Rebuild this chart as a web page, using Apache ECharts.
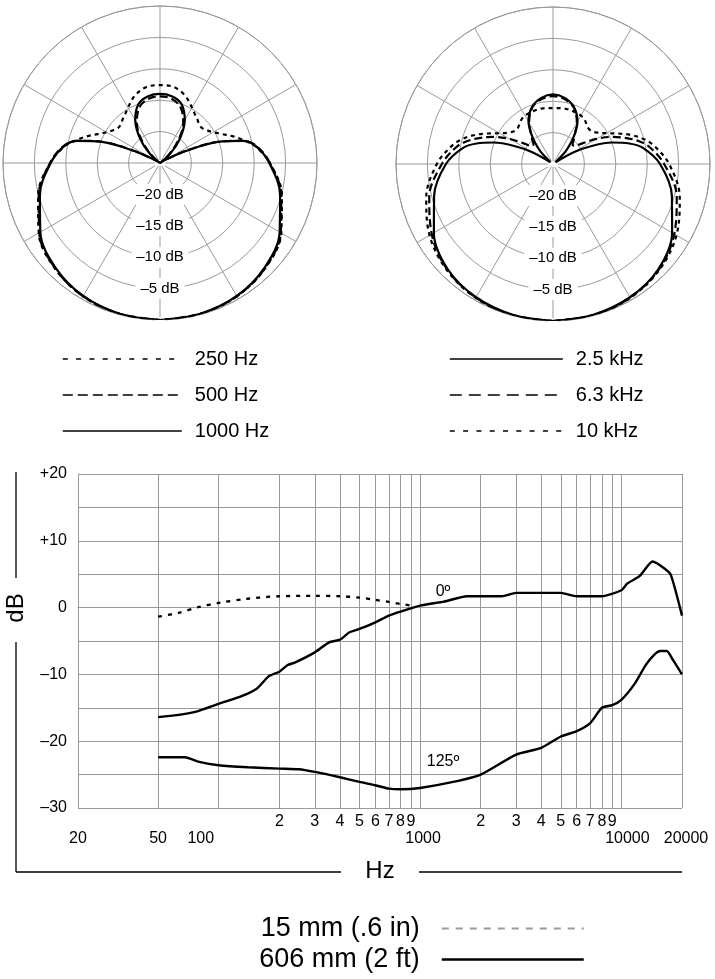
<!DOCTYPE html>
<html lang="en">
<head>
<meta charset="UTF-8">
<script src="https://cdn.jsdelivr.net/npm/echarts/dist/echarts.min.js"></script>
<title>Polar pattern / frequency response</title>
<style>
    html, body {
        margin: 0;
        padding: 0;
        background: #fff;
    }
    #chart {
        width: 715px;
        height: 979px;
    }
</style>
</head>
<body>
<div id="chart"></div>
<script type="text/javascript">

    // polar patterns: angle in degrees, 0 = front of the mic (bottom of the plot)
    var polarAngles = [0, 15, 30, 45, 60, 75, 90, 100, 105, 110, 115, 120, 125, 130, 135, 140, 145, 150, 160, 170, 180,
        190, 200, 210, 215, 220, 225, 230, 235, 240, 245, 250, 255, 260, 270, 285, 300, 315, 330, 345, 360];

    var db250 = [0, -0.15, -0.5, -1.3, -2.7, -4.9, -7.5, -9.6, -11.1, -12.6, -14.1, -15.2, -15.9, -16.3, -16.2, -15.8, -15.4, -14.8, -13.5, -12.7, -12.6,
        -12.7, -13.5, -14.8, -15.4, -15.8, -16.2, -16.3, -15.9, -15.2, -14.1, -12.6, -11.1, -9.6, -7.5, -4.9, -2.7, -1.3, -0.5, -0.15, 0];
    var db500 = [0, -0.15, -0.5, -1.35, -2.8, -5.0, -7.5, -9.4, -11.3, -15.1, -20.3, -23.8, -25, -24, -22.4, -20.8, -19.0, -17.6, -15.5, -14.6, -14.4,
        -14.6, -15.5, -17.6, -19.0, -20.8, -22.4, -24, -25, -23.8, -20.3, -15.1, -11.3, -9.4, -7.5, -5.0, -2.8, -1.35, -0.5, -0.15, 0];
    var db1000 = [0, -0.15, -0.55, -1.45, -3.0, -5.2, -7.6, -9.5, -11.4, -15.2, -20.6, -24, -25, -23.6, -22, -20.3, -18.6, -17.1, -15.0, -14.2, -14.0,
        -14.2, -15.0, -17.1, -18.6, -20.3, -22, -23.6, -25, -24, -20.6, -15.2, -11.4, -9.5, -7.6, -5.2, -3.0, -1.45, -0.55, -0.15, 0];
    var db2500 = [0, -0.15, -0.5, -1.3, -3.1, -5.4, -7.95, -10.4, -12.4, -15.0, -18.2, -21.3, -24.5, -24.3, -22.2, -20.5, -18.8, -17.2, -15.3, -14.3, -13.9,
        -14.3, -15.3, -17.2, -18.8, -20.5, -22.2, -24.3, -24.5, -21.3, -18.2, -15.0, -12.4, -10.4, -7.95, -5.4, -3.1, -1.3, -0.5, -0.15, 0];
    var db6300 = [0, -0.1, -0.45, -1.2, -2.7, -4.6, -7.3, -9.4, -10.9, -12.8, -14.8, -17.0, -19.2, -20.5, -20.6, -19.8, -18.8, -17.4, -15.4, -14.5, -14.2,
        -14.5, -15.4, -17.4, -18.8, -19.8, -20.6, -20.5, -19.2, -17.0, -14.8, -12.8, -10.9, -9.4, -7.3, -4.6, -2.7, -1.2, -0.45, -0.1, 0];
    var db10k = [0, -0.1, -0.4, -1.1, -2.3, -4.1, -6.5, -8.6, -9.9, -11.6, -13.5, -15.2, -16.3, -16.9, -17.0, -16.7, -16.3, -16.1, -16.0, -16.0, -16.1,
        -16.0, -16.0, -16.1, -16.3, -16.7, -17.0, -16.9, -16.3, -15.2, -13.5, -11.6, -9.9, -8.6, -6.5, -4.1, -2.3, -1.1, -0.4, -0.1, 0];

    // frequency response, Hz / dB
    var hz15mm = [50, 63, 80, 100, 137, 200, 300, 400, 500, 600, 700, 800, 900];
    var db15mm = [-1.35, -0.8, 0.1, 0.7, 1.3, 1.7, 1.75, 1.7, 1.5, 1.15, 0.85, 0.55, 0.3];

    var hz0deg = [50, 62, 79, 100, 129, 155, 177, 200, 220, 240, 300, 353, 400, 446, 500, 600, 700, 800, 1000, 1315, 1712,
        2000, 2540, 3000, 4000, 5000, 6000, 8000, 10000, 10700, 12300, 14300, 16300, 17600, 20000];
    var db0deg = [-16.4, -16.1, -15.5, -14.4, -13.3, -12.1, -10.3, -9.6, -8.6, -8.2, -6.7, -5.2, -4.8, -3.7, -3.2, -2.2, -1.2, -0.6, 0.3, 0.9, 1.7,
        1.7, 1.7, 2.2, 2.2, 2.2, 1.7, 1.7, 2.6, 3.6, 4.7, 6.9, 5.9, 4.9, -1.2];

    var hz125deg = [50, 68, 80, 100, 140, 200, 250, 300, 400, 500, 600, 700, 800, 1000, 1460, 2000, 3000, 4000, 5000, 6000,
        7000, 8000, 9000, 10000, 11700, 13200, 14500, 15600, 16800, 18000, 20000];
    var db125deg = [-22.4, -22.4, -23.1, -23.6, -23.9, -24.1, -24.2, -24.6, -25.4, -26.1, -26.6, -27.1, -27.2, -27.0, -26.1, -25.0, -22.0, -21.0, -19.3, -18.5,
        -17.3, -15.0, -14.6, -13.8, -11.3, -8.6, -7.1, -6.5, -6.5, -7.8, -10.0];

    // x axis grid / labels
    var gridHz = [20, 50, 100, 200, 300, 400, 500, 600, 700, 800, 900, 1000, 2000, 3000, 4000, 5000, 6000, 7000, 8000, 9000, 10000, 20000];
    var digitHz = [200, 300, 400, 500, 600, 700, 800, 900, 2000, 3000, 4000, 5000, 6000, 7000, 8000, 9000];
    var mainHz = [20, 50, 100, 1000, 10000, 20000];

    var FONT = 'Liberation Sans, Arial, Helvetica, sans-serif';
    var GRID_GRAY = '#999';

    function polarPairs(values) {
        return polarAngles.map(function (a, i) {
            return [values[i], a];
        });
    }

    function pairs(xs, ys) {
        return xs.map(function (x, i) {
            return [x, ys[i]];
        });
    }

    function polarSeries(name, idx, values, dash) {
        return {
            name: name,
            type: 'line',
            coordinateSystem: 'polar',
            polarIndex: idx,
            symbol: 'none',
            smooth: 0.35,
            silent: true,
            lineStyle: {color: '#000', width: 2.2, type: dash},
            data: polarPairs(values)
        };
    }

    function angleAxis(idx) {
        return {
            polarIndex: idx,
            type: 'value',
            min: 0,
            max: 360,
            interval: 30,
            startAngle: 270,
            axisLine: {show: true, lineStyle: {color: GRID_GRAY, width: 1}},
            axisTick: {show: false},
            axisLabel: {show: false},
            splitLine: {show: true, lineStyle: {color: GRID_GRAY, width: 1}}
        };
    }

    function radiusAxis(idx) {
        return {
            polarIndex: idx,
            type: 'value',
            min: -25,
            max: 0,
            interval: 5,
            axisLine: {show: false},
            axisTick: {show: false},
            splitLine: {show: true, lineStyle: {color: GRID_GRAY, width: 1}},
            axisLabel: {
                margin: 0,
                align: 'center',
                verticalAlign: 'middle',
                fontSize: 15,
                fontFamily: FONT,
                color: '#000',
                backgroundColor: '#fff',
                padding: [3, 5],
                formatter: function (v) {
                    if (v <= -25 || v >= 0) return '';
                    return '\u2013' + (-v) + ' dB';
                }
            }
        };
    }

    function polarLegend(left, items, width) {
        return {
            orient: 'vertical',
            left: left,
            top: 349,
            padding: 0,
            itemWidth: width,
            itemHeight: 20,
            itemGap: 16,
            selectedMode: false,
            itemStyle: {opacity: 0},
            textStyle: {fontSize: 20, fontFamily: FONT, color: '#000', padding: [0, 0, 0, 8]},
            data: items
        };
    }

    var chart = echarts.init(document.getElementById('chart'));

    var option = {
        animation: false,
        textStyle: {fontFamily: FONT},
        polar: [
            {center: [160, 163], radius: 157},
            {center: [553, 164], radius: 157}
        ],
        angleAxis: [angleAxis(0), angleAxis(1)],
        radiusAxis: [radiusAxis(0), radiusAxis(1)],
        grid: {left: 78, top: 474, width: 604, height: 334},
        xAxis: [
            {
                type: 'log',
                logBase: 10,
                min: 20,
                max: 20000,
                name: 'Hz',
                nameLocation: 'middle',
                nameGap: 51,
                nameTextStyle: {fontSize: 24, fontFamily: FONT, color: '#000'},
                axisLine: {show: true, lineStyle: {color: GRID_GRAY}},
                axisTick: {show: false, customValues: gridHz},
                splitLine: {show: true, lineStyle: {color: GRID_GRAY, width: 1}},
                axisLabel: {
                    customValues: digitHz,
                    margin: 6,
                    fontSize: 16,
                    color: '#000',
                    formatter: function (v) {
                        return String(Math.round(v)).charAt(0);
                    }
                }
            },
            {
                type: 'log',
                logBase: 10,
                min: 20,
                max: 20000,
                position: 'bottom',
                axisLine: {show: false},
                axisTick: {show: false, customValues: mainHz},
                splitLine: {show: false},
                axisLabel: {
                    customValues: mainHz,
                    margin: 23,
                    fontSize: 16,
                    color: '#000',
                    formatter: function (v) {
                        v = Math.round(v);
                        if (v === 100) return '{a|100}';
                        if (v === 1000) return '{b|1000}';
                        if (v === 10000) return '{c|10000}';
                        if (v === 20000) return '{d|20000}';
                        return String(v);
                    },
                    rich: {
                        a: {fontSize: 16, color: '#000', padding: [0, 36, 0, 0]},
                        b: {fontSize: 16, color: '#000', padding: [0, 0, 0, 6]},
                        c: {fontSize: 16, color: '#000', padding: [0, 0, 0, 12]},
                        d: {fontSize: 16, color: '#000', padding: [0, 0, 0, 8]}
                    }
                }
            }
        ],
        yAxis: {
            type: 'value',
            min: -30,
            max: 20,
            interval: 5,
            axisLine: {show: true, lineStyle: {color: GRID_GRAY}},
            axisTick: {show: false},
            splitLine: {show: true, lineStyle: {color: GRID_GRAY, width: 1}},
            axisLabel: {
                margin: 11,
                fontSize: 16,
                color: '#000',
                formatter: function (v) {
                    if (v % 10 !== 0) return '';
                    if (v > 0) return '+' + v;
                    if (v < 0) return '\u2013' + (-v);
                    return '0';
                }
            }
        },
        legend: [
            polarLegend(62, [
                {name: '250 Hz', lineStyle: {type: [5, 8.3], width: 1.6}},
                {name: '500 Hz', lineStyle: {type: [10, 5], width: 1.6}},
                {name: '1000 Hz', lineStyle: {width: 1.6}}
            ], 119),
            polarLegend(449, [
                {name: '2.5 kHz', lineStyle: {width: 1.6}},
                {name: '6.3 kHz', lineStyle: {type: [12, 7], width: 1.6}},
                {name: '10 kHz', lineStyle: {type: [5, 8.3], width: 1.6}}
            ], 113),
            {
                orient: 'vertical',
                align: 'right',
                right: 130,
                top: 915,
                padding: 0,
                itemWidth: 142,
                itemHeight: 26,
                itemGap: 4,
                selectedMode: false,
                itemStyle: {opacity: 0},
                textStyle: {fontSize: 27, fontFamily: FONT, color: '#000', padding: [0, 17, 0, 0]},
                data: [
                    {name: '15 mm (.6 in)', lineStyle: {color: '#999', type: [7, 7], width: 2}},
                    {name: '606 mm (2 ft)', lineStyle: {color: '#000', width: 2.5}}
                ]
            }
        ],
        graphic: [
            {type: 'line', shape: {x1: 16, y1: 472, x2: 16, y2: 578}, style: {stroke: '#000', lineWidth: 1.3}},
            {type: 'line', shape: {x1: 16, y1: 642, x2: 16, y2: 872}, style: {stroke: '#000', lineWidth: 1.3}},
            {type: 'line', shape: {x1: 16, y1: 872, x2: 341, y2: 872}, style: {stroke: '#000', lineWidth: 1.3}},
            {type: 'line', shape: {x1: 419, y1: 872, x2: 682, y2: 872}, style: {stroke: '#000', lineWidth: 1.3}},
            {
                type: 'text', x: 16, y: 608, rotation: Math.PI / 2,
                style: {
                    text: 'dB', fontSize: 24, fontFamily: FONT, fill: '#000',
                    align: 'center', verticalAlign: 'middle', textAlign: 'center', textVerticalAlign: 'middle'
                }
            }
        ],
        series: [
            polarSeries('250 Hz', 0, db250, [4, 4]),
            polarSeries('500 Hz', 0, db500, [8, 4]),
            polarSeries('1000 Hz', 0, db1000, 'solid'),
            polarSeries('10 kHz', 1, db10k, [4, 4]),
            polarSeries('6.3 kHz', 1, db6300, [8, 4]),
            polarSeries('2.5 kHz', 1, db2500, 'solid'),
            {
                name: '15 mm (.6 in)',
                type: 'line',
                xAxisIndex: 0,
                yAxisIndex: 0,
                symbol: 'none',
                smooth: 0.3,
                lineStyle: {color: '#000', width: 2.3, type: [4, 6]},
                data: pairs(hz15mm, db15mm)
            },
            {
                name: '606 mm (2 ft)',
                type: 'line',
                xAxisIndex: 0,
                yAxisIndex: 0,
                symbol: 'none',
                smooth: 0.2,
                lineStyle: {color: '#000', width: 2.4},
                data: pairs(hz0deg, db0deg),
                markPoint: {
                    symbol: 'circle',
                    symbolSize: 0,
                    silent: true,
                    label: {show: true, fontSize: 16, color: '#000', formatter: '{b}'},
                    data: [{name: '0\u00ba', coord: [1300, 2.4]}]
                }
            },
            {
                name: '606 mm (2 ft)',
                type: 'line',
                xAxisIndex: 0,
                yAxisIndex: 0,
                symbol: 'none',
                smooth: 0.2,
                lineStyle: {color: '#000', width: 2.4},
                data: pairs(hz125deg, db125deg),
                markPoint: {
                    symbol: 'circle',
                    symbolSize: 0,
                    silent: true,
                    label: {show: true, fontSize: 16, color: '#000', formatter: '{b}'},
                    data: [{name: '125\u00ba', coord: [1300, -23]}]
                }
            }
        ]
    };

    chart.setOption(option);
</script>
</body>
</html>
